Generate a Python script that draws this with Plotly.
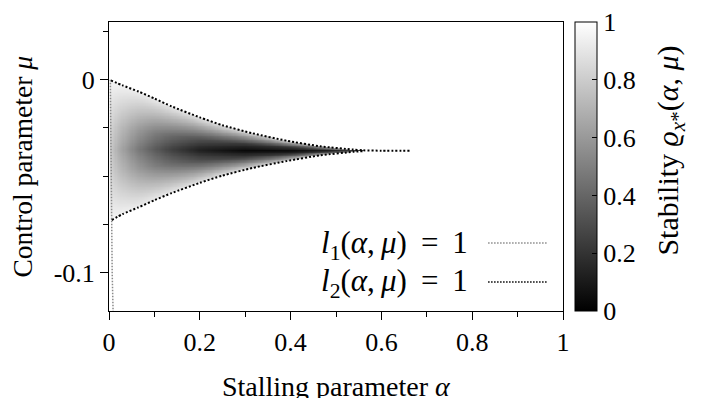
import numpy as np
import plotly.graph_objects as go

# ---- data ----
# boundary l2(alpha, mu) = 1 : upper branch (with tail) and lower branch
ALPHA_UP = [0.004, 0.03, 0.065, 0.10, 0.138, 0.20, 0.25, 0.317, 0.391, 0.465, 0.538, 0.56, 0.60, 0.663]
MU_UP = [-0.0003, -0.0029, -0.0061, -0.0097, -0.0138, -0.0195, -0.0236, -0.0278, -0.0316, -0.0345, -0.0362, -0.0366, -0.0368, -0.0368]
ALPHA_LO = [0.006, 0.03, 0.064, 0.10, 0.138, 0.20, 0.25, 0.317, 0.391, 0.465, 0.538, 0.56]
MU_LO = [-0.0728, -0.0697, -0.0663, -0.0625, -0.0588, -0.0535, -0.0497, -0.0457, -0.0422, -0.0392, -0.0374, -0.0370]

# boundary l1(alpha, mu) = 1
ALPHA_L1 = [0.003, 0.005, 0.007, 0.009]
MU_L1 = [0.0, -0.073, -0.100, -0.120]

# stability values read inside the tongue:
# columns = alpha, rows = relative distance from the tongue's centre line (0 centre, 1 edge)
ALPHA_Z = [0.0, 0.02, 0.064, 0.10, 0.138, 0.20, 0.30, 0.40, 0.48, 0.56]
T_Z = [0.0, 0.33, 0.67, 1.0]
Z_TABLE = [
    [0.82, 0.68, 0.48, 0.36, 0.25, 0.12, 0.03, 0.04, 0.10, 0.30],
    [0.85, 0.75, 0.60, 0.50, 0.42, 0.32, 0.22, 0.20, 0.25, 0.40],
    [0.90, 0.85, 0.77, 0.72, 0.68, 0.62, 0.55, 0.50, 0.48, 0.55],
    [0.96, 0.95, 0.93, 0.92, 0.91, 0.90, 0.87, 0.83, 0.78, 0.75],
]

CB_TICKS = [0, 0.2, 0.4, 0.6, 0.8, 1]
CB_LABELS = ["0", "0.2", "0.4", "0.6", "0.8", "1"]
X_TICKS = [0, 0.2, 0.4, 0.6, 0.8, 1]
X_LABELS = ["0", "0.2", "0.4", "0.6", "0.8", "1"]
X_MINOR = [0.1, 0.3, 0.5, 0.7, 0.9]
Y_TICKS = [0, -0.1]
Y_LABELS = ["0", "-0.1"]
Y_MINOR = [0.025, -0.025, -0.05, -0.075]

# ---- build the stability field on a grid from the values above ----
ag = np.arange(0.003, 0.5625, 0.0025)
mg = np.arange(-0.0752, 0.0012, 0.0004)
zt = np.array(Z_TABLE)
Z = np.full((len(mg), len(ag)), np.nan)
for j, a in enumerate(ag):
    up = np.interp(a, ALPHA_UP, MU_UP)
    lo = np.interp(a, ALPHA_LO, MU_LO)
    c = 0.5 * (up + lo)
    hw = 0.5 * (up - lo)
    col = np.array([np.interp(a, ALPHA_Z, row) for row in zt])
    t = np.abs(mg - c) / hw
    inside = t <= 1.0
    Z[inside, j] = np.interp(t[inside], T_Z, col)

FONT = "Liberation Serif"
fig = go.Figure()

fig.add_trace(go.Heatmap(
    x=ag, y=mg, z=Z, zmin=0, zmax=1,
    colorscale=[[0, "#000000"], [1, "#ffffff"]],
    hoverinfo="skip",
    colorbar=dict(
        x=1.0264, xanchor="left", xpad=0, ypad=0,
        y=0.5, yanchor="middle", len=1, lenmode="fraction",
        thickness=22, outlinewidth=1, outlinecolor="black",
        tickmode="array", tickvals=CB_TICKS, ticktext=CB_LABELS,
        ticks="inside", ticklen=5, tickcolor="black",
        tickfont=dict(family=FONT, size=26, color="black"),
    ),
))

# l2 = 1 (black dotted)
fig.add_trace(go.Scatter(
    x=ALPHA_UP + [None] + ALPHA_LO, y=MU_UP + [None] + MU_LO,
    mode="lines", line=dict(color="black", width=2, dash="2px,2px", shape="spline", smoothing=0.6),
    showlegend=False, hoverinfo="skip",
))
# l1 = 1 (grey dotted)
fig.add_trace(go.Scatter(
    x=ALPHA_L1, y=MU_L1, mode="lines",
    line=dict(color="#8a8a8a", width=1.5, dash="1.5px,1.5px"),
    showlegend=False, hoverinfo="skip",
))

EQ = "\u2009 =\u2009 1"
annotations = [
    dict(text="Stalling parameter <i>α</i>", xref="paper", yref="paper",
         x=0.5, y=-0.262, xanchor="center", yanchor="middle", showarrow=False,
         font=dict(family=FONT, size=28, color="black")),
    dict(text="Control parameter <i>μ</i>", xref="paper", yref="paper",
         x=-0.1916, y=0.5, xanchor="center", yanchor="middle", showarrow=False,
         textangle=-90, font=dict(family=FONT, size=27.5, color="black")),
    dict(text="Stability <i>ϱ</i><sub><i>x</i>*</sub>(<i>α</i>, <i>μ</i>)", xref="paper", yref="paper",
         x=1.2357, y=0.555, xanchor="center", yanchor="middle", showarrow=False,
         textangle=-90, font=dict(family=FONT, size=30, color="black")),
    dict(text="<i>l</i><sub>1</sub>(<i>α</i>,\u2009<i>μ</i>)" + EQ, xref="paper", yref="paper",
         x=0.795, y=0.228, xanchor="right", yanchor="middle", showarrow=False,
         font=dict(family=FONT, size=31, color="black")),
    dict(text="<i>l</i><sub>2</sub>(<i>α</i>,\u2009<i>μ</i>)" + EQ, xref="paper", yref="paper",
         x=0.795, y=0.097, xanchor="right", yanchor="middle", showarrow=False,
         font=dict(family=FONT, size=31, color="black")),
]
shapes = [
    dict(type="line", xref="paper", yref="paper", x0=0.835, x1=0.965, y0=0.235, y1=0.235,
         line=dict(color="#8a8a8a", width=1.5, dash="1.5px,1.5px")),
    dict(type="line", xref="paper", yref="paper", x0=0.835, x1=0.965, y0=0.100, y1=0.100,
         line=dict(color="black", width=1.5, dash="1.5px,1.5px")),
]

axis_common = dict(showline=True, linecolor="black", linewidth=1, mirror=True,
                   showgrid=False, zeroline=False, ticks="outside", tickcolor="black",
                   ticklen=8, tickwidth=1,
                   tickfont=dict(family=FONT, size=26, color="black"))
# the page body adds an 8 px offset, so margins are shifted to keep the plot area in place
fig.update_layout(
    width=704, height=398,
    margin=dict(l=101, r=149, t=14, b=95),
    paper_bgcolor="white", plot_bgcolor="white",
    xaxis=dict(range=[0, 1], tickmode="array", tickvals=X_TICKS, ticktext=X_LABELS,
               minor=dict(tickmode="array", tickvals=X_MINOR, ticks="outside", ticklen=5,
                          tickcolor="black"),
               **axis_common),
    yaxis=dict(range=[-0.12, 0.03], tickmode="array", tickvals=Y_TICKS, ticktext=Y_LABELS,
               minor=dict(tickmode="array", tickvals=Y_MINOR, ticks="outside", ticklen=5,
                          tickcolor="black"),
               **axis_common),
    annotations=annotations, shapes=shapes, showlegend=False,
)

fig.write_html("out.html")
